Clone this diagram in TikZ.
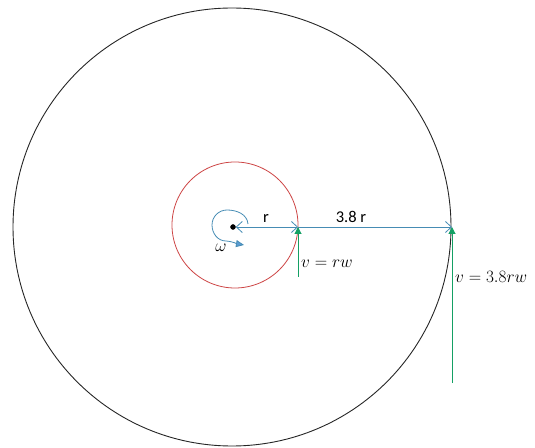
\documentclass[tikz,border=0pt]{standalone}
\usepackage{fontspec}
\setmainfont{Carlito}
\usetikzlibrary{arrows.meta}
\definecolor{LineBlue}{RGB}{70,140,180}
\definecolor{TipBlue}{RGB}{90,155,210}
\definecolor{VelGreen}{RGB}{20,160,100}
\definecolor{RimRed}{RGB}{205,70,70}

\begin{document}
\begin{tikzpicture}[x=1pt, y=1pt,
    rline/.style={draw=LineBlue, line width=0.8pt},
    vel/.style={draw=VelGreen, line width=1pt, -{Triangle[length=7pt,width=7pt]}},
    mathlbl/.style={inner sep=0pt, font=\fontsize{18}{20}\selectfont},
    textlbl/.style={inner sep=0pt, font=\fontsize{16.5}{19}\selectfont}]
                \useasboundingbox (0,0) rectangle (535,447);
                \draw[line width=0.9pt, black!85] (232,220) circle[radius=219];
                \draw[line width=0.8pt, RimRed] (235,222) circle[radius=63];
                \node[draw, circle, fill=black, inner sep=0pt, minimum size=5pt] (c) at (233,220) {};
                \coordinate (p1) at (298,220);
                \coordinate (p2) at (452,220);
                \coordinate (g1) at (298,170);
                \coordinate (g2) at (452,64);
                \draw[rline, {Straight Barb[length=6pt,width=11pt]}-{Straight Barb[length=6pt,width=11pt]}] (c) -- (p1);
                \draw[rline, -{Straight Barb[length=6pt,width=11pt]}] (p1) -- (p2);
                \draw[vel] (g1) -- (p1);
                \draw[vel] (g2) -- (p2);
                \draw[rline, -{Triangle[length=8pt,width=7pt,fill=TipBlue]}] (248,223) to[out=95,in=0] (227,237) to[out=180,in=90] (212,222) to[out=-90,in=180] (226,206) to[out=-5,in=170] (244,202);
                \node[textlbl, anchor=base] (lr) at (266,224) {r};
                \node[textlbl, anchor=base] (lrr) at (351,224) {3.8 r};
                \node[mathlbl, anchor=base] (lw) at (221,195) {$\omega$};
                \node[mathlbl, anchor=base west] (lv1) at (301,179) {$v = rw$};
                \node[mathlbl, anchor=base west] (lv2) at (455,164) {$v = 3.8rw$};
            \end{tikzpicture}
\end{document}
